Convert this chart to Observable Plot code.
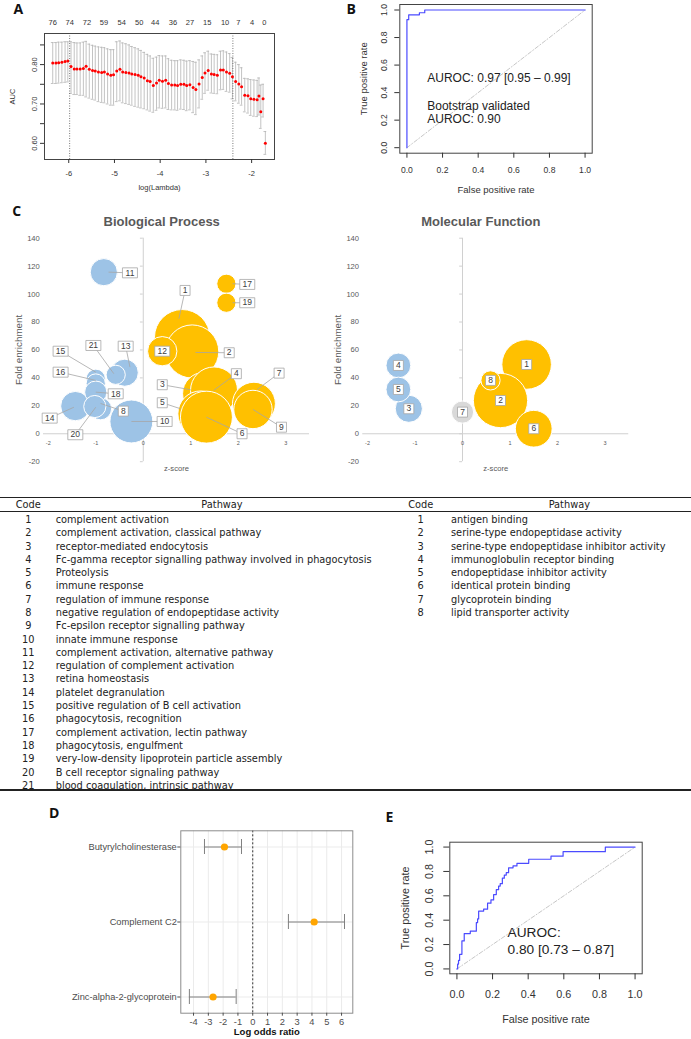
<!DOCTYPE html>
<html><head><meta charset="utf-8">
<script src="https://cdn.jsdelivr.net/npm/d3@7"></script>
<script src="https://cdn.jsdelivr.net/npm/@observablehq/plot@0.6"></script>
<style>
body{margin:0;background:#fff;}
#root{position:relative;width:691px;height:1039px;overflow:hidden;background:#fff;font-family:"Liberation Sans",Arial,sans-serif;}
.panel{position:absolute;}
.t{position:absolute;white-space:nowrap;line-height:1;}
.rule{position:absolute;left:0;width:691px;background:#222;}
</style></head><body><div id="root"></div>
<script>
// ================= DATA =================
// Panel A: cross-validated AUC along log(lambda)
const aLogLambda = [-6.35,-6.28,-6.22,-6.15,-6.08,-6.02,
 -5.95,-5.88,-5.82,-5.75,-5.68,-5.62,-5.55,-5.48,-5.42,-5.35,-5.28,-5.22,-5.15,-5.08,-5.02,
 -4.95,-4.88,-4.82,-4.75,-4.68,-4.62,-4.55,-4.48,-4.42,-4.35,-4.28,-4.22,-4.15,-4.08,-4.02,
 -3.95,-3.88,-3.82,-3.75,-3.68,-3.62,-3.55,-3.48,-3.42,-3.35,-3.28,-3.22,-3.15,-3.08,-3.02,
 -2.95,-2.88,-2.82,-2.75,-2.68,-2.62,-2.55,-2.48,-2.42,-2.35,-2.28,-2.22,-2.15,-2.08,-2.02,
 -1.95,-1.88,-1.84,-1.80,-1.75,-1.70];
const aAUC = [0.804,0.804,0.805,0.806,0.808,0.809,
 0.795,0.789,0.789,0.789,0.790,0.796,0.788,0.785,0.784,0.781,0.780,0.781,0.776,0.773,0.774,
 0.784,0.788,0.781,0.780,0.779,0.776,0.775,0.773,0.769,0.766,0.759,0.757,0.747,0.753,0.760,
 0.758,0.760,0.752,0.748,0.748,0.747,0.750,0.750,0.747,0.749,0.742,0.737,0.751,0.767,0.779,
 0.785,0.776,0.775,0.773,0.786,0.786,0.781,0.778,0.769,0.757,0.751,0.744,0.722,0.721,0.713,
 0.712,0.711,0.720,0.680,0.713,0.600];
const aLower = [0.752,0.752,0.753,0.754,0.755,0.756,
 0.727,0.724,0.724,0.722,0.722,0.718,0.715,0.712,0.710,0.706,0.704,0.703,0.700,0.697,0.697,
 0.706,0.708,0.703,0.701,0.699,0.697,0.694,0.692,0.690,0.688,0.685,0.682,0.679,0.684,0.690,
 0.689,0.690,0.686,0.685,0.685,0.684,0.687,0.686,0.683,0.685,0.678,0.673,0.690,0.712,0.727,
 0.735,0.728,0.727,0.726,0.736,0.737,0.732,0.730,0.713,0.708,0.702,0.697,0.680,0.677,0.671,
 0.669,0.668,0.672,0.638,0.667,0.572];
const aUpper = [0.856,0.856,0.857,0.857,0.858,0.858,
 0.858,0.856,0.855,0.855,0.857,0.859,0.852,0.849,0.847,0.845,0.844,0.843,0.840,0.838,0.838,
 0.858,0.860,0.855,0.853,0.850,0.846,0.843,0.840,0.836,0.831,0.826,0.822,0.816,0.819,0.823,
 0.822,0.822,0.815,0.811,0.810,0.810,0.812,0.811,0.809,0.810,0.808,0.806,0.812,0.822,0.830,
 0.834,0.827,0.826,0.825,0.834,0.835,0.832,0.828,0.818,0.806,0.800,0.792,0.765,0.764,0.762,
 0.761,0.760,0.766,0.748,0.750,0.630];
const aNzLambda = [-6.35,-5.98,-5.60,-5.23,-4.84,-4.46,-4.11,-3.72,-3.35,-2.97,-2.58,-2.29,-1.99,-1.72];
const aNzCount = [76,74,72,59,54,50,44,36,27,15,10,7,4,0];
const aSelectedLambda = [-5.98, -2.41];
const aXTicks = [-6,-5,-4,-3,-2];
const aYTickMarks = [0.60,0.65,0.70,0.75,0.80,0.85];
const aYTickLabels = ["0.60","0.70","0.80"];

// Panel B: training ROC
const bFPR = [0, 0, 0.01, 0.07, 0.10, 1.0];
const bTPR = [0, 0.93, 0.965, 0.98, 1.0, 1.0];
const bText = ["AUROC: 0.97 [0.95 \u2013 0.99]", "Bootstrap validated", "AUROC: 0.90"];
const bTextX = 0.114;
const bTextY = [0.505, 0.304, 0.21];

// Shared ROC axis ticks
const rocTicks = [0, 0.2, 0.4, 0.6, 0.8, 1.0];
const rocTickLabels = ["0.0","0.2","0.4","0.6","0.8","1.0"];
const refDiag = [0, 1];

// Panel C: GO enrichment bubbles
const bpCode = [1,2,3,4,5,6,7,8,9,10,11,12,13,14,15,16,17,18,19,20,21];
const bpZ    = [0.82,1.03,1.28,1.49,1.21,1.33,2.33,-0.90,2.31,-0.25,-0.83,0.40,-0.39,-1.43,-1.00,-1.00,1.75,-1.00,1.75,-1.02,-0.58];
const bpFE   = [69.1,58.9,28.6,31.0,14.3,11.9,21.5,17.9,17.4,8.8,115.7,59.1,43.7,19.8,39.4,36.0,107.4,29.8,93.8,19.5,42.2];
const bpCount= [25,23,15,18,17,22,15,4,12,15,6,7,6,7,3,3,3,4,3,4,3];
const bpDir  = ["up","up","up","up","up","up","up","down","up","down","down","up","down","down","down","down","up","down","up","down","down"];
// callout label box (lx, ly) and leader tip (tx, ty), in z-score / fold-enrichment units
const bpLabelX = [0.88,1.81,0.40,1.96,0.40,2.08,2.86,-0.42,2.91,0.45,-0.28,0.40,-0.37,-1.97,-1.74,-1.74,2.19,-0.58,2.19,-1.43,-1.05];
const bpLabelY = [102.6,58.0,35.1,43.0,22.2,0.0,43.4,16.2,4.7,8.8,115.2,59.1,62.7,11.2,59.1,44.1,106.9,28.6,93.8,-0.7,63.2];
const bpTipX   = [0.75,1.10,1.00,1.48,0.785,1.33,2.40,-0.90,2.31,-0.25,-0.73,0.40,-0.28,-1.46,-1.00,-1.00,1.88,-1.00,1.88,-1.00,-0.62];
const bpTipY   = [82.3,58.2,31.5,31.0,17.9,11.9,31.7,21.7,17.4,8.8,115.7,59.1,47.7,19.0,44.1,38.2,107.4,29.8,93.8,19.0,43.0];

const mfCode = [1,2,3,4,5,6,7,8];
const mfZ    = [1.35,0.80,-1.13,-1.35,-1.35,1.50,0.00,0.59];
const mfFE   = [49.6,23.8,17.9,48.9,31.7,3.6,15.5,38.2];
const mfCount= [20,24,6,5,5,11,4,3];
const mfDir  = ["up","up","down","down","down","up","none","up"];

const cDirDomain = ["down","up","none"];
const cDirColors = ["#9dc3e6","#ffc000","#d9d9d9"];
const cYTicks = [-20,0,20,40,60,80,100,120,140];
const cXTicks = [-2,-1,0,1,2,3];

// Pathway tables
const bpPathways = ["complement activation","complement activation, classical pathway","receptor-mediated endocytosis",
 "Fc-gamma receptor signalling pathway involved in phagocytosis","Proteolysis","immune response",
 "regulation of immune response","negative regulation of endopeptidase activity","Fc-epsilon receptor signalling pathway",
 "innate immune response","complement activation, alternative pathway","regulation of complement activation",
 "retina homeostasis","platelet degranulation","positive regulation of B cell activation","phagocytosis, recognition",
 "complement activation, lectin pathway","phagocytosis, engulfment","very-low-density lipoprotein particle assembly",
 "B cell receptor signaling pathway","blood coagulation, intrinsic pathway"];
const mfPathways = ["antigen binding","serine-type endopeptidase activity","serine-type endopeptidase inhibitor activity",
 "immunoglobulin receptor binding","endopeptidase inhibitor activity","identical protein binding",
 "glycoprotein binding","lipid transporter activity"];

// Panel D: logistic regression log odds ratios
const dProteins = ["Butyrylcholinesterase","Complement C2","Zinc-alpha-2-glycoprotein"];
const dEstimate = [-1.91, 4.15, -2.68];
const dLower = [-3.26, 2.41, -4.28];
const dUpper = [-0.76, 6.20, -1.12];
const dXTicks = [-4,-3,-2,-1,0,1,2,3,4,5,6];

// Panel E: validation ROC
const eFPR = [0,0.004,0.009,0.015,0.028,0.041,0.075,0.109,0.116,0.122,0.150,0.172,0.191,0.206,0.221,0.234,0.243,0.255,0.266,0.277,0.290,0.315,0.337,0.403,0.528,0.596,0.833,1.0];
const eTPR = [0,0.04,0.07,0.12,0.23,0.29,0.31,0.38,0.41,0.475,0.49,0.54,0.566,0.61,0.65,0.68,0.70,0.745,0.77,0.79,0.83,0.845,0.867,0.90,0.925,0.962,1.0,1.0];
const eText = ["AUROC:", "0.80 [0.73 \u2013 0.87]"];
const eTextX = 0.284;
const eTextY = [0.296, 0.159];

// ================= HELPERS =================
const root = document.getElementById("root");
const RFONT = "Liberation Sans, Arial, Helvetica, sans-serif";
function place(node, left, top) {
  const d = document.createElement("div");
  d.className = "panel"; d.style.left = left + "px"; d.style.top = top + "px";
  d.appendChild(node); root.appendChild(d);
}
function addText(str, x, y, o = {}) {
  const d = document.createElement("div");
  d.className = "t"; d.textContent = str;
  const a = o.anchor || "middle";
  const tx = a === "start" ? "0" : a === "end" ? "-100%" : "-50%";
  d.style.left = x + "px"; d.style.top = y + "px";
  d.style.transform = `translate(${tx},-50%)` + (o.rotate ? ` rotate(${o.rotate}deg)` : "");
  d.style.fontSize = (o.size || 10) + "px";
  d.style.fontWeight = o.weight || "normal";
  d.style.color = o.color || "#222";
  d.style.fontFamily = o.family || RFONT;
  root.appendChild(d);
}
function addRule(y, h) {
  const d = document.createElement("div");
  d.className = "rule"; d.style.top = y + "px"; d.style.height = h + "px";
  root.appendChild(d);
}
function boxSymbol(w, h) {
  return {draw(ctx) { ctx.rect(-w / 2, -h / 2, w, h); }};
}
const MID = {textAnchor: "middle", lineAnchor: "middle"};

// ================= PANEL A =================
const aData = aLogLambda.map((x, i) => ({x, auc: aAUC[i], lo: aLower[i], hi: aUpper[i]}));
const plotA = Plot.plot({
  width: 300, height: 195,
  marginLeft: 44, marginRight: 26, marginTop: 33, marginBottom: 36,
  style: {fontFamily: RFONT, fontSize: "7.5px", color: "#333", background: "transparent"},
  x: {domain: [-6.53, -1.5]},
  y: {domain: [0.559, 0.879]},
  marks: [
    Plot.ruleX(aData, {x: "x", y1: "lo", y2: "hi", stroke: "#b4b4b4", strokeWidth: 0.8}),
    Plot.ruleY(aData, {y: "lo", x1: d => d.x - 0.03, x2: d => d.x + 0.03, stroke: "#b4b4b4", strokeWidth: 0.8}),
    Plot.ruleY(aData, {y: "hi", x1: d => d.x - 0.03, x2: d => d.x + 0.03, stroke: "#b4b4b4", strokeWidth: 0.8}),
    Plot.ruleX(aSelectedLambda, {stroke: "#555", strokeWidth: 0.8, strokeDasharray: "1,1.5"}),
    Plot.dot(aData, {x: "x", y: "auc", r: 1.5, fill: "#ff0000"}),
    Plot.frame({stroke: "#444"}),
    Plot.axisX({ticks: aXTicks, tickSize: 4, tickPadding: 7, tickFormat: d => String(d), label: null}),
    Plot.axisY({ticks: aYTickMarks, tickSize: 4, tickFormat: () => "", label: null}),
    Plot.text(aYTickLabels, {y: d => +d, text: d => d, frameAnchor: "left", dx: -10, rotate: -90, ...MID}),
    Plot.text(aNzCount, {x: (d, i) => aNzLambda[i], text: d => String(d), frameAnchor: "top", dy: -11, ...MID}),
    Plot.text(["log(Lambda)"], {text: d => d, frameAnchor: "bottom", dy: 28, ...MID}),
    Plot.text(["AUC"], {text: d => d, frameAnchor: "left", dx: -32, rotate: -90, ...MID})
  ]
});
place(plotA, 0, 0);

// ================= ROC helper =================
function rocPlot(cfg) {
  const data = cfg.fpr.map((f, i) => ({fpr: f, tpr: cfg.tpr[i]}));
  return Plot.plot({
    width: cfg.width, height: cfg.height,
    marginLeft: cfg.ml, marginRight: cfg.mr, marginTop: cfg.mt, marginBottom: cfg.mb,
    style: {fontFamily: RFONT, fontSize: cfg.tickFont + "px", color: "#333", background: "transparent"},
    x: {domain: [-0.04, 1.04]},
    y: {domain: [-0.04, 1.04]},
    marks: [
      Plot.line(refDiag, {x: d => d, y: d => d, stroke: "#b8b8b8", strokeWidth: 0.8, strokeDasharray: "4,2,1,2"}),
      Plot.line(data, {x: "fpr", y: "tpr", curve: "step-after", stroke: "#4b4bff", strokeWidth: 1.2}),
      Plot.frame({stroke: "#444"}),
      Plot.axisX({ticks: rocTicks, tickSize: cfg.tick, tickPadding: cfg.padX, tickFormat: (d, i) => rocTickLabels[i], label: null}),
      Plot.axisY({ticks: rocTicks, tickSize: cfg.tick, tickFormat: () => "", label: null}),
      Plot.text(rocTickLabels, {y: d => +d, text: d => d, frameAnchor: "left", dx: cfg.dxY, rotate: -90, ...MID}),
      Plot.text(["False positive rate"], {text: d => d, frameAnchor: "bottom", dy: cfg.dyLab, fontSize: cfg.labFont, ...MID}),
      Plot.text(["True positive rate"], {text: d => d, frameAnchor: "left", dx: cfg.dxLab, rotate: -90, fontSize: cfg.labFont, ...MID}),
      Plot.text(cfg.text, {x: cfg.textX, y: (d, i) => cfg.textY[i], text: d => d, textAnchor: "start", fontSize: cfg.textFont, fill: "#222"})
    ]
  });
}

// ================= PANEL B =================
place(rocPlot({fpr: bFPR, tpr: bTPR, width: 300, height: 200, ml: 59.3, mr: 48.3, mt: 4, mb: 47.3,
  tickFont: 8.6, tick: 5, padX: 9, dxY: -16, dyLab: 36.3, dxLab: -36.3, labFont: 9.5,
  text: bText, textX: bTextX, textY: bTextY, textFont: 12}), 340, 0);

// ================= PANEL C =================
function bubblePlot(bubbles, labels, w, ml, mr) {
  const one = labels.filter(d => d.code < 10), two = labels.filter(d => d.code >= 10);
  const leaders = labels.filter(d => d.tx !== d.lx || d.ty !== d.ly);
  return Plot.plot({
    width: w, height: 250, marginLeft: ml, marginRight: mr, marginTop: 7.7, marginBottom: 18.8,
    style: {fontFamily: RFONT, fontSize: "7.6px", color: "#595959", background: "transparent"},
    x: {domain: [-2.1, 3.5], axis: null},
    y: {domain: [-20, 140], axis: null},
    r: {type: "sqrt", domain: [0, 25], range: [0, 27.7]},
    color: {domain: cDirDomain, range: cDirColors},
    marks: [
      Plot.ruleY([0], {stroke: "#d0d0d0"}),
      Plot.ruleX([0], {stroke: "#d0d0d0"}),
      Plot.ruleY(cYTicks, {x1: -0.06, x2: 0, stroke: "#d0d0d0"}),
      Plot.text(cYTicks, {y: d => d, text: d => String(d), frameAnchor: "left", dx: -3.7, textAnchor: "end", lineAnchor: "middle"}),
      Plot.text(cXTicks, {x: d => d, y: 0, dy: 9, text: d => String(d), fontSize: 5.5, ...MID}),
      Plot.dot(bubbles, {x: "z", y: "fe", r: "count", fill: "dir", stroke: "white", strokeWidth: 1, sort: null}),
      Plot.link(leaders, {x1: "tx", y1: "ty", x2: "lx", y2: "ly", stroke: "#a6a6a6", strokeWidth: 0.8}),
      Plot.dot(one, {x: "lx", y: "ly", symbol: boxSymbol(10, 10), r: 3, fill: "white", stroke: "#a6a6a6", strokeWidth: 0.8}),
      Plot.dot(two, {x: "lx", y: "ly", symbol: boxSymbol(15, 10), r: 3, fill: "white", stroke: "#a6a6a6", strokeWidth: 0.8}),
      Plot.text(labels, {x: "lx", y: "ly", text: d => String(d.code), fontSize: 8.5, fill: "#404040", ...MID}),
      Plot.text(["z-score"], {text: d => d, frameAnchor: "bottom", dy: 7, ...MID}),
      Plot.text(["Fold enrichment"], {text: d => d, frameAnchor: "left", dx: -25, rotate: -90, fontSize: 9.8, ...MID})
    ]
  });
}
const bpBubbles = bpCode.map((c, i) => ({code: c, z: bpZ[i], fe: bpFE[i], count: bpCount[i], dir: bpDir[i]}));
const bpLabels = bpCode.map((c, i) => ({code: c, lx: bpLabelX[i], ly: bpLabelY[i], tx: bpTipX[i], ty: bpTipY[i]}));
const mfBubbles = mfCode.map((c, i) => ({code: c, z: mfZ[i], fe: mfFE[i], count: mfCount[i], dir: mfDir[i]}));
const mfLabels = mfCode.map((c, i) => ({code: c, lx: mfZ[i], ly: mfFE[i], tx: mfZ[i], ty: mfFE[i]}));
place(bubblePlot(bpBubbles, bpLabels, 330, 43, 21), 0, 230);
place(bubblePlot(mfBubbles, mfLabels, 361, 32.25, 62.75), 330, 230);

// ================= TABLE =================
addRule(496.7, 1.3);
addRule(511.2, 1);
addRule(789.4, 1.3);
const TF = "DejaVu Sans, Verdana, sans-serif";
addText("Code", 28.3, 505, {family: TF, size: 9.8});
addText("Pathway", 222, 505, {family: TF, size: 9.8});
addText("Code", 420.7, 505, {family: TF, size: 9.8});
addText("Pathway", 569.3, 505, {family: TF, size: 9.8});
bpPathways.forEach((p, i) => {
  const y = 520 + i * 13.29;
  addText(String(i + 1), 28.3, y, {family: TF, size: 9.8});
  addText(p, 55.7, y, {family: TF, size: 9.8, anchor: "start"});
});
mfPathways.forEach((p, i) => {
  const y = 520 + i * 13.29;
  addText(String(i + 1), 420.7, y, {family: TF, size: 9.8});
  addText(p, 451, y, {family: TF, size: 9.8, anchor: "start"});
});

// ================= PANEL D =================
const dData = dProteins.map((n, i) => ({name: n, est: dEstimate[i], lo: dLower[i], hi: dUpper[i]}));
const plotD = Plot.plot({
  width: 360, height: 239, marginLeft: 180.3, marginRight: 7.7, marginTop: 30.3, marginBottom: 26.3,
  style: {fontFamily: RFONT, fontSize: "9.3px", color: "#4d4d4d", background: "transparent"},
  x: {domain: [-4.86, 6.76]},
  y: {type: "band", domain: dProteins, paddingInner: 0.798, paddingOuter: 0.1045},
  marks: [
    Plot.ruleX(dXTicks, {stroke: "#ebebeb"}),
    Plot.ruleY(dProteins, {y: d => d, stroke: "#ebebeb"}),
    Plot.ruleX([0], {stroke: "#333", strokeDasharray: "2,2"}),
    Plot.ruleY(dData, {y: "name", x1: "lo", x2: "hi", stroke: "#808080"}),
    Plot.tickX(dData, {x: "lo", y: "name", stroke: "#808080"}),
    Plot.tickX(dData, {x: "hi", y: "name", stroke: "#808080"}),
    Plot.dot(dData, {x: "est", y: "name", r: 3.6, fill: "#ffa500"}),
    Plot.frame({stroke: "#8c8c8c"}),
    Plot.axisX({ticks: dXTicks, tickSize: 3, tickPadding: 2, tickFormat: d => String(d), label: null}),
    Plot.axisY({tickSize: 3, tickPadding: 1, label: null}),
    Plot.text(["Log odds ratio"], {text: d => d, frameAnchor: "bottom", dy: 19, fontWeight: "bold", fill: "#111", fontSize: 9.5, ...MID})
  ]
});
place(plotD, 0, 800);

// ================= PANEL E =================
place(rocPlot({fpr: eFPR, tpr: eTPR, width: 331, height: 239, ml: 89.3, mr: 49.3, mt: 41.7, mb: 65.7,
  tickFont: 10.8, tick: 6, padX: 10.2, dxY: -20, dyLab: 46, dxLab: -44.3, labFont: 10.8,
  text: eText, textX: eTextX, textY: eTextY, textFont: 13.7}), 360, 800);

// ================= TITLES & PANEL LETTERS =================
const LF = "Open Sans, Liberation Sans, Arial, sans-serif";
addText("A", 18.3, 8.5, {size: 14, weight: "bold", family: LF, color: "#111"});
addText("B", 351.3, 9, {size: 14, weight: "bold", family: LF, color: "#111"});
addText("C", 16.7, 210.7, {size: 14, weight: "bold", family: LF, color: "#111"});
addText("D", 54.3, 812.8, {size: 14, weight: "bold", family: LF, color: "#111"});
addText("E", 389.5, 817.2, {size: 14, weight: "bold", family: LF, color: "#111"});
addText("Biological Process", 161.7, 221, {size: 13, weight: "bold", color: "#595959"});
addText("Molecular Function", 480.8, 221, {size: 13, weight: "bold", color: "#595959"});
</script></body></html>
